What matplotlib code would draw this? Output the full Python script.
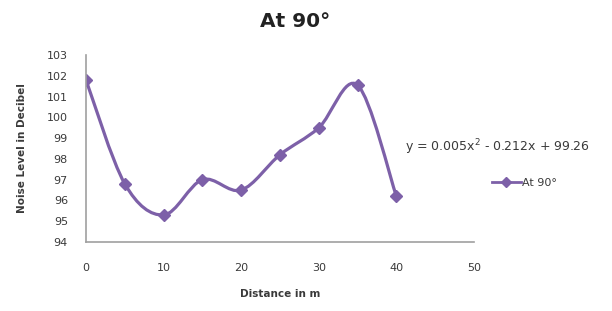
import numpy as np
import matplotlib
matplotlib.use("Agg")
import matplotlib.pyplot as plt
from matplotlib.path import Path
from matplotlib.patches import PathPatch

distance = [0, 5, 10, 15, 20, 25, 30, 35, 40]
noise = [101.8, 96.8, 95.3, 97.0, 96.5, 98.2, 99.5, 101.55, 96.2]
x_ticks = [0, 10, 20, 30, 40, 50]
y_ticks = [94, 95, 96, 97, 98, 99, 100, 101, 102, 103]
series_name = "At 90°"
equation = "y = 0.005x$^2$ - 0.212x + 99.26"

PURPLE = "#7d60a8"
TEXT = "#3a3a3a"


def smooth_path(xs, ys, k=1 / 6):
    # Excel-style smoothed line: Catmull-Rom segments as cubic Beziers
    pts = np.column_stack([xs, ys]).astype(float)
    verts = [pts[0]]
    codes = [Path.MOVETO]
    n = len(pts)
    for i in range(n - 1):
        p0 = pts[max(i - 1, 0)]
        p1 = pts[i]
        p2 = pts[i + 1]
        p3 = pts[min(i + 2, n - 1)]
        c1 = p1 + (p2 - p0) * k
        c2 = p2 - (p3 - p1) * k
        verts += [c1, c2, p2]
        codes += [Path.CURVE4] * 3
    return Path(verts, codes)


fig = plt.figure(figsize=(6.12, 3.11), dpi=100)
ax = fig.add_axes([0.1405, 0.222, 0.634, 0.601])

ax.add_patch(PathPatch(smooth_path(distance, noise), facecolor="none",
                       edgecolor=PURPLE, linewidth=2.3, capstyle="round"))
ax.plot(distance, noise, linestyle="none", marker="D", markersize=6,
        color=PURPLE)

ax.set_xlim(0, 50)
ax.set_ylim(94, 103)
ax.set_xticks(x_ticks)
ax.set_yticks(y_ticks)
ax.tick_params(axis="both", length=0, labelsize=8, colors=TEXT)
ax.tick_params(axis="x", pad=15)
ax.tick_params(axis="y", pad=13)

for side in ("top", "right"):
    ax.spines[side].set_visible(False)
for side in ("left", "bottom"):
    ax.spines[side].set_color("#a0a0a0")
    ax.spines[side].set_linewidth(1.2)

ax.set_xlabel("Distance in m", fontsize=7.5, fontweight="bold",
              color=TEXT, labelpad=12)
ax.set_ylabel("Noise Level in Decibel", fontsize=7.5, fontweight="bold",
              color=TEXT, labelpad=14)

fig.text(0.482, 0.93, series_name, ha="center", va="center",
         fontsize=14.5, fontweight="bold", color="#222222")

fig.text(0.662, 0.527, equation, ha="left", va="center",
         fontsize=9, color=TEXT)

# legend entry drawn beside the plot
leg = ax.legend([plt.Line2D([], [], color=PURPLE, marker="D",
                            markersize=5, linewidth=2)],
                [series_name], loc="center left",
                bbox_to_anchor=(1.02, 0.315), frameon=False,
                fontsize=8, handlelength=2.6, handletextpad=0.1,
                labelcolor=TEXT)

fig.savefig("out.png", dpi=100)
